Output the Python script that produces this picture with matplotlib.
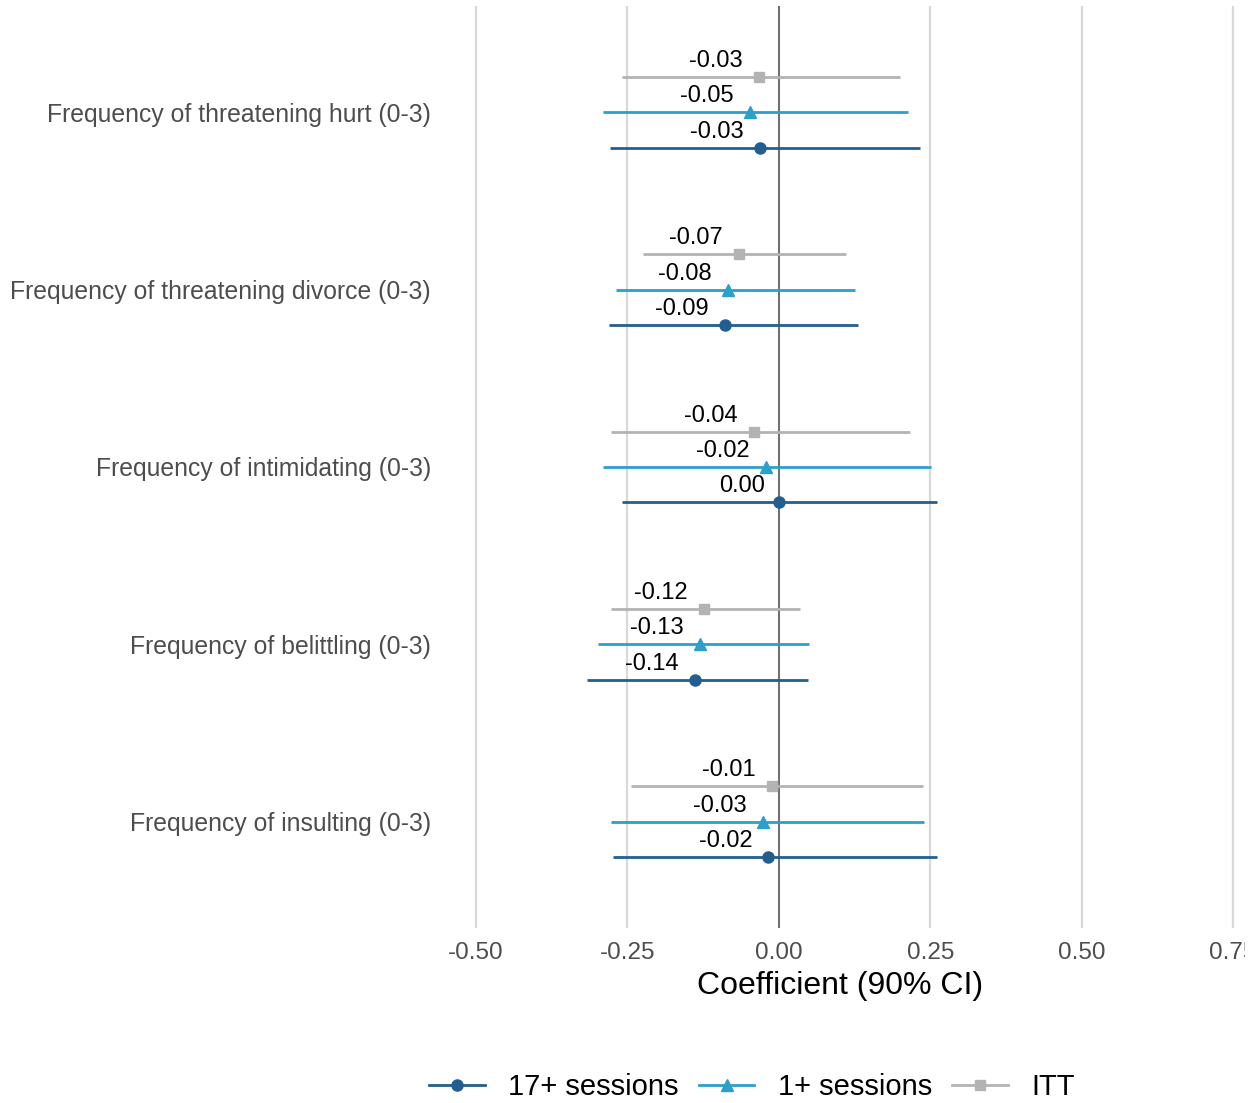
import matplotlib
matplotlib.use("Agg")
import matplotlib.pyplot as plt
from matplotlib.lines import Line2D
from matplotlib.transforms import Bbox

plt.rcParams['font.family'] = ['Liberation Sans', 'DejaVu Sans']

# Outcomes (top to bottom)
outcomes = [
    "Frequency of threatening hurt (0-3)",
    "Frequency of threatening divorce (0-3)",
    "Frequency of intimidating (0-3)",
    "Frequency of belittling (0-3)",
    "Frequency of insulting (0-3)",
]

groups = ["17+ sessions", "1+ sessions", "ITT"]

# point estimates per group, same order as outcomes
est_17 = [-0.031, -0.089, 0.000, -0.139, -0.017]
est_1 = [-0.048, -0.084, -0.021, -0.130, -0.026]
est_itt = [-0.033, -0.066, -0.041, -0.124, -0.012]

# 90% CI bounds
lo_17 = [-0.279, -0.281, -0.259, -0.317, -0.274]
hi_17 = [0.233, 0.130, 0.261, 0.048, 0.262]
lo_1 = [-0.290, -0.269, -0.290, -0.299, -0.277]
hi_1 = [0.213, 0.125, 0.251, 0.050, 0.239]
lo_itt = [-0.259, -0.224, -0.277, -0.277, -0.244]
hi_itt = [0.200, 0.111, 0.216, 0.035, 0.238]

x_ticks = [-0.50, -0.25, 0.00, 0.25, 0.50, 0.75]

colors = {"17+ sessions": "#225e8f", "1+ sessions": "#2ba0cb", "ITT": "#b3b3b3"}
markers = {"17+ sessions": "o", "1+ sessions": "^", "ITT": "s"}
msizes = {"17+ sessions": 8, "1+ sessions": 9, "ITT": 7.5}
offsets = {"17+ sessions": -0.2, "1+ sessions": 0.0, "ITT": 0.2}

data = {
    "17+ sessions": (est_17, lo_17, hi_17),
    "1+ sessions": (est_1, lo_1, hi_1),
    "ITT": (est_itt, lo_itt, hi_itt),
}

W, H = 1260, 1103
fig = plt.figure(figsize=(W / 100, H / 100), dpi=100)
ax = fig.add_axes([438 / W, 1 - 928 / H, (1271 - 438) / W, (928 - 6) / H])

n = len(outcomes)
ypos = list(range(n, 0, -1))

ax.set_xlim(-0.5625, 0.8125)
ax.set_ylim(0.4, n + 0.6)

for xt in x_ticks:
    ax.axvline(xt, color="#d9d9d9", lw=1.6, zorder=0)
ax.axvline(0, color="#666666", lw=1.3, zorder=1)

labels = []
for g in groups:
    est, lo, hi = data[g]
    for i in range(n):
        y = ypos[i] + offsets[g]
        ax.plot([lo[i], hi[i]], [y, y], color=colors[g], lw=2.0, zorder=2, solid_capstyle="butt")
        ax.plot(est[i], y, marker=markers[g], color=colors[g], ms=msizes[g], zorder=3, ls="none")
        t = ax.annotate(f"{est[i]:.2f}", (est[i], y), xytext=(0, 16), textcoords="offset pixels",
                        ha="right", va="center", fontsize=17, color="black", zorder=4)
        labels.append(t)

ax.set_yticks(ypos)
ax.set_yticklabels(outcomes, fontsize=17.8, color="#4d4d4d")
ax.set_xticks(x_ticks)
ax.set_xticklabels([f"{v:.2f}" for v in x_ticks], fontsize=17.5, color="#4d4d4d")
ax.tick_params(length=0)
ax.tick_params(axis="x", pad=10)
ax.tick_params(axis="y", pad=5)
for s in ax.spines.values():
    s.set_visible(False)

fig.text(840 / W, 1 - 986 / H, "Coefficient (90% CI)", fontsize=23, ha="center", va="center")

# the last tick label is cut by the right edge in the original
last = ax.get_xticklabels()[-1]
last.set_clip_box(Bbox.from_extents(0, 0, 1245, H))
last.set_clip_on(True)

# shift labels left by a fraction of their width (hjust ~ 1.3)
fig.canvas.draw()
r = fig.canvas.get_renderer()
for t in labels:
    w = t.get_window_extent(r).width
    t.xyann = (-0.3 * w, 16)

handles = [Line2D([0], [0], color=colors[g], marker=markers[g], ms=msizes[g], lw=2.0) for g in groups]
fig.legend(handles, groups, loc="center", bbox_to_anchor=(752 / W, 1 - 1087 / H), ncol=3,
           frameon=False, fontsize=21, handlelength=1.9, handletextpad=0.8, columnspacing=0.7)

fig.savefig("out.png", dpi=100)
